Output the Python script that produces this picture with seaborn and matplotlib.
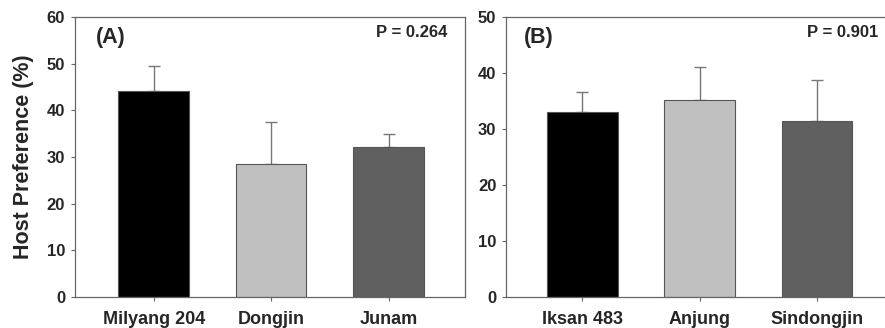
import numpy as np
import pandas as pd
import matplotlib
matplotlib.use("Agg")
import matplotlib.pyplot as plt
import seaborn as sns

# panel A
cultivars_a = ["Milyang 204", "Dongjin", "Junam"]
pref_a = [44.1, 28.4, 32.1]
err_a = [5.3, 9.2, 2.8]

# panel B
cultivars_b = ["Iksan 483", "Anjung", "Sindongjin"]
pref_b = [33.1, 35.2, 31.5]
err_b = [3.5, 5.8, 7.3]

bar_colors = ["#000000", "#c0c0c0", "#606060"]

sns.set_style("white")
plt.rcParams["font.family"] = ["Liberation Sans", "DejaVu Sans"]
plt.rcParams["font.weight"] = "bold"

fig = plt.figure(figsize=(8.85, 3.28), dpi=100)
ax_a = fig.add_axes([0.0847, 0.0945, 0.4406, 0.8537])
ax_b = fig.add_axes([0.5718, 0.0945, 0.4282, 0.8537])


def draw_panel(ax, names, vals, errs, ymax, letter, ptext, xl, lx, px):
    df = pd.DataFrame({"cultivar": names, "pref": vals})
    sns.barplot(data=df, x="cultivar", y="pref", hue="cultivar",
                palette=bar_colors, width=0.6, edgecolor="#555555",
                linewidth=0.8, legend=False, ax=ax, zorder=2)
    ax.errorbar(np.arange(len(names)), vals, yerr=[np.zeros(len(errs)), errs],
                fmt="none", ecolor="#777777", elinewidth=1.0, capsize=4,
                capthick=1.0, zorder=1)
    ax.set_ylim(0, ymax)
    ax.set_xlim(*xl)
    ax.set_yticks(np.arange(0, ymax + 1, 10))
    ax.set_xlabel("")
    ax.set_ylabel("")
    for s in ax.spines.values():
        s.set_color("#666666")
        s.set_linewidth(0.9)
    ax.tick_params(axis="both", direction="out", length=3, width=0.8,
                   color="#666666", labelsize=12, pad=4,
                   bottom=True, left=True)
    ax.tick_params(axis="x", labelsize=13, pad=7)
    for lab in ax.get_xticklabels() + ax.get_yticklabels():
        lab.set_fontweight("bold")
    ax.text(lx, 0.925, letter, transform=ax.transAxes, fontsize=15.5,
            fontweight="bold", ha="left", va="center")
    ax.text(px, 0.943, ptext, transform=ax.transAxes, fontsize=12,
            fontweight="bold", ha="right", va="center")


draw_panel(ax_a, cultivars_a, pref_a, err_a, 60, "(A)", "P = 0.264",
           (-0.67, 2.65), 0.054, 0.954)
draw_panel(ax_b, cultivars_b, pref_b, err_b, 50, "(B)", "P = 0.901",
           (-0.65, 2.58), 0.047, 0.981)
ax_b.spines["right"].set_visible(False)

ax_a.set_ylabel("Host Preference (%)", fontsize=15.5, fontweight="bold",
                labelpad=9)

fig.savefig("out.png", dpi=100)
